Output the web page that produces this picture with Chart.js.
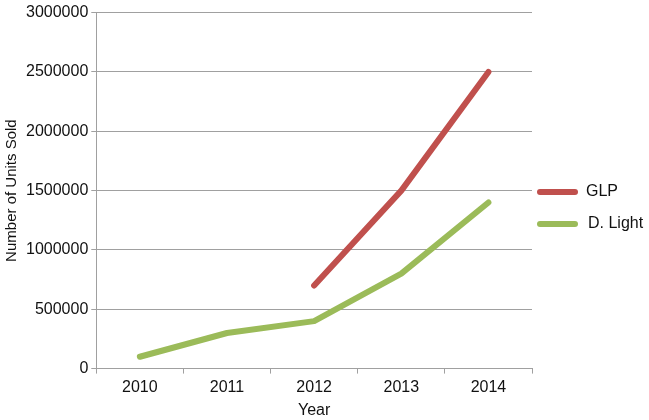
<!DOCTYPE html>
<html>
<head>
<meta charset="utf-8">
<script src="https://cdn.jsdelivr.net/npm/chart.js@4"></script>
<style>
  html, body { margin: 0; padding: 0; background: #ffffff; }
  #wrap { width: 649px; height: 420px; }
</style>
</head>
<body>
<div id="wrap"><canvas id="c" width="649" height="420"></canvas></div>
<script>
const years = ['2010', '2011', '2012', '2013', '2014'];
const glp = [null, null, 700000, 1500000, 2500000];
const dLight = [100000, 300000, 400000, 800000, 1400000];
const yTicks = [0, 500000, 1000000, 1500000, 2000000, 2500000, 3000000];

const FONT = 'Liberation Sans, Arial, sans-serif';

const legendPlugin = {
  id: 'customLegend',
  afterDraw(chart) {
    const ctx = chart.ctx;
    const x0 = 540, x1 = 575, tx = 586;
    const ys = [192, 224];
    ctx.save();
    chart.data.datasets.forEach((ds, i) => {
      ctx.strokeStyle = ds.borderColor;
      ctx.lineWidth = 6;
      ctx.lineCap = 'round';
      ctx.beginPath();
      ctx.moveTo(x0, ys[i]);
      ctx.lineTo(x1, ys[i]);
      ctx.stroke();
      ctx.fillStyle = '#111111';
      ctx.font = '16px ' + FONT;
      ctx.textBaseline = 'middle';
      ctx.textAlign = 'left';
      ctx.fillText(ds.label, tx + (i === 1 ? 2 : 0), ys[i]);
    });
    ctx.restore();
  }
};

new Chart(document.getElementById('c'), {
  type: 'line',
  data: {
    labels: years,
    datasets: [
      { label: 'GLP', data: glp, borderColor: '#c0504d', backgroundColor: '#c0504d',
        borderWidth: 6, pointRadius: 0, spanGaps: false, tension: 0, borderCapStyle: 'round', borderJoinStyle: 'round' },
      { label: 'D. Light', data: dLight, borderColor: '#9bbb59', backgroundColor: '#9bbb59',
        borderWidth: 6, pointRadius: 0, tension: 0, borderCapStyle: 'round', borderJoinStyle: 'round' }
    ]
  },
  options: {
    responsive: false,
    animation: false,
    layout: { padding: { top: 10, right: 117, left: 3, bottom: 0 } },
    plugins: { legend: { display: false }, tooltip: { enabled: false } },
    scales: {
      x: {
        offset: true,
        grid: { display: true, drawOnChartArea: false, offset: true, tickLength: 5, color: '#a0a0a0' },
        border: { color: '#a0a0a0', width: 1 },
        ticks: { color: '#111111', font: { family: FONT, size: 16 }, padding: 4 },
        title: { display: true, text: 'Year', color: '#111111', font: { family: FONT, size: 16 }, padding: { top: 0, bottom: 0 } }
      },
      y: {
        min: 0, max: 3000000,
        afterBuildTicks(axis) { axis.ticks = yTicks.map(v => ({ value: v })); },
        grid: { color: '#a0a0a0', tickLength: 5, lineWidth: 1 },
        border: { color: '#a0a0a0', width: 1 },
        ticks: { color: '#111111', font: { family: FONT, size: 16 }, padding: 3, callback: v => String(v) },
        title: { display: true, text: 'Number of Units Sold', color: '#111111', font: { family: FONT, size: 15 }, padding: { top: 0, bottom: 2 } }
      }
    }
  },
  plugins: [legendPlugin]
});
</script>
</body>
</html>
